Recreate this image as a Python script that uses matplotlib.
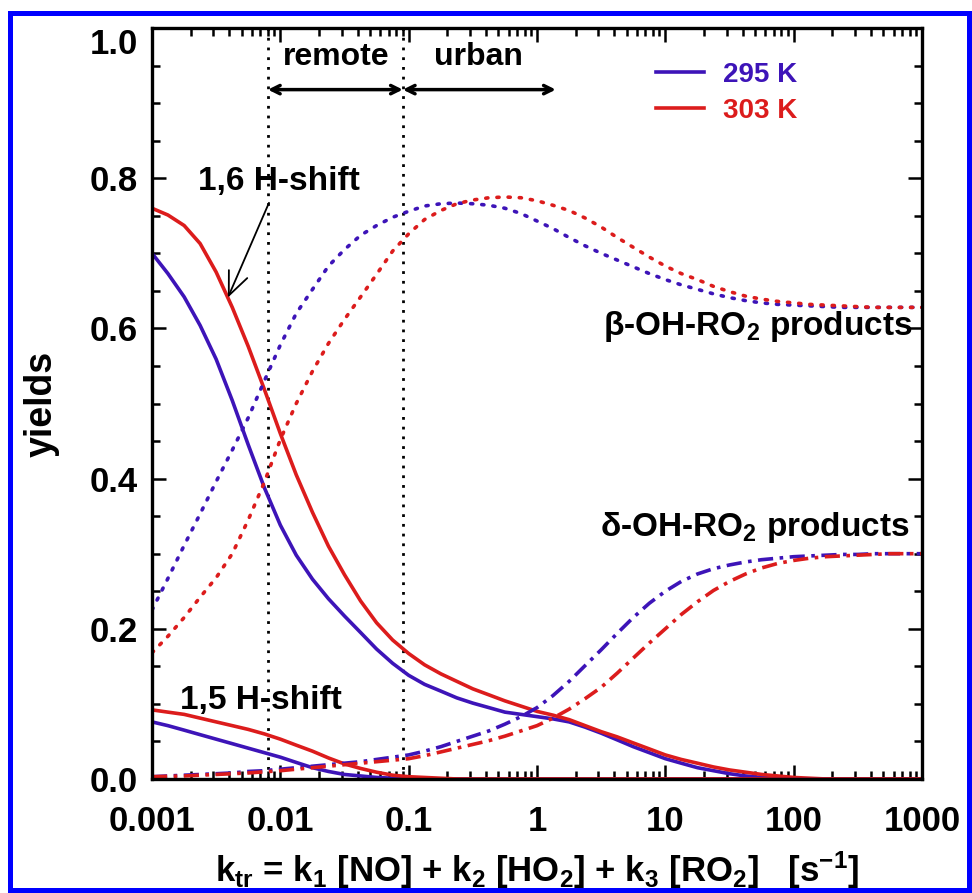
import matplotlib
matplotlib.use("Agg")
import matplotlib.pyplot as plt
from matplotlib.patches import Rectangle

plt.rcParams['font.family'] = ['Liberation Sans', 'DejaVu Sans']
plt.rcParams['font.weight'] = 'bold'
plt.rcParams['mathtext.fontset'] = 'custom'
plt.rcParams['mathtext.rm'] = 'Liberation Sans:bold'
plt.rcParams['mathtext.it'] = 'Liberation Sans:bold'
plt.rcParams['mathtext.bf'] = 'Liberation Sans:bold'

BLUE = '#3d14b8'
RED = '#dc1c1c'

# k_tr grid (s^-1), eighth-decade steps
k_tr = [0.001, 0.00133, 0.00178, 0.00237, 0.00316, 0.00422, 0.00562, 0.0075,
        0.01, 0.0133, 0.0178, 0.0237, 0.0316, 0.0422, 0.0562, 0.075,
        0.1, 0.133, 0.178, 0.237, 0.316, 0.422, 0.562, 0.75,
        1, 1.33, 1.78, 2.37, 3.16, 4.22, 5.62, 7.5,
        10, 13.3, 17.8, 23.7, 31.6, 42.2, 56.2, 75,
        100, 133, 178, 237, 316, 422, 562, 750,
        1000]

# 1,6 H-shift yields
h16_295 = [0.70, 0.673, 0.642, 0.604, 0.559, 0.504, 0.445, 0.388, 0.338, 0.298, 0.266, 0.24,
           0.217, 0.195, 0.173, 0.154, 0.138, 0.126, 0.117, 0.108, 0.101, 0.095, 0.089, 0.086,
           0.083, 0.08, 0.076, 0.069, 0.061, 0.052, 0.043, 0.035, 0.027, 0.021, 0.015, 0.011,
           0.007, 0.004, 0.002, 0.001, 0, 0, 0, 0, 0, 0, 0, 0, 0]
h16_303 = [0.76, 0.751, 0.737, 0.713, 0.675, 0.628, 0.576, 0.519, 0.46, 0.405, 0.355, 0.31,
           0.272, 0.237, 0.208, 0.185, 0.167, 0.152, 0.14, 0.13, 0.12, 0.112, 0.104, 0.097,
           0.09, 0.085, 0.079, 0.071, 0.063, 0.056, 0.048, 0.04, 0.032, 0.026, 0.021, 0.016,
           0.012, 0.009, 0.006, 0.004, 0.002, 0.001, 0, 0, 0, 0, 0, 0, 0]

# 1,5 H-shift yields
h15_295 = [0.076, 0.071, 0.065, 0.059, 0.053, 0.047, 0.041, 0.035, 0.029, 0.022, 0.015, 0.01,
           0.006, 0.004, 0.002, 0.001, 0, 0, 0, 0, 0, 0, 0, 0,
           0, 0, 0, 0, 0, 0, 0, 0, 0, 0, 0, 0,
           0, 0, 0, 0, 0, 0, 0, 0, 0, 0, 0, 0, 0]
h15_303 = [0.092, 0.089, 0.086, 0.081, 0.076, 0.071, 0.066, 0.06, 0.053, 0.045, 0.037, 0.028,
           0.02, 0.014, 0.009, 0.005, 0.003, 0.002, 0.001, 0, 0, 0, 0, 0,
           0, 0, 0, 0, 0, 0, 0, 0, 0, 0, 0, 0,
           0, 0, 0, 0, 0, 0, 0, 0, 0, 0, 0, 0, 0]

# beta-OH-RO2 products
beta_295 = [0.225, 0.267, 0.311, 0.353, 0.396, 0.438, 0.481, 0.53, 0.578, 0.62, 0.652, 0.683,
            0.705, 0.724, 0.737, 0.748, 0.756, 0.763, 0.766, 0.767, 0.766, 0.764, 0.76, 0.753,
            0.743, 0.733, 0.721, 0.71, 0.70, 0.691, 0.682, 0.673, 0.665, 0.658, 0.652, 0.646,
            0.641, 0.637, 0.634, 0.632, 0.631, 0.63, 0.629, 0.628, 0.628, 0.628, 0.628, 0.628, 0.628]
beta_303 = [0.168, 0.19, 0.215, 0.242, 0.268, 0.30, 0.345, 0.395, 0.452, 0.50, 0.543, 0.58,
            0.612, 0.642, 0.672, 0.703, 0.726, 0.745, 0.757, 0.766, 0.771, 0.774, 0.775, 0.774,
            0.77, 0.764, 0.757, 0.747, 0.735, 0.721, 0.708, 0.695, 0.683, 0.673, 0.665, 0.656,
            0.649, 0.643, 0.639, 0.636, 0.634, 0.632, 0.631, 0.63, 0.629, 0.628, 0.628, 0.628, 0.628]

# delta-OH-RO2 products
delta_295 = [0.003, 0.004, 0.005, 0.006, 0.007, 0.008, 0.01, 0.011, 0.013, 0.015, 0.017, 0.019,
             0.021, 0.023, 0.026, 0.029, 0.032, 0.037, 0.043, 0.05, 0.057, 0.064, 0.073, 0.083,
             0.095, 0.111, 0.13, 0.151, 0.172, 0.194, 0.215, 0.234, 0.25, 0.263, 0.273, 0.28,
             0.285, 0.289, 0.292, 0.294, 0.296, 0.297, 0.298, 0.299, 0.299, 0.30, 0.30, 0.30, 0.30]
delta_303 = [0.003, 0.0035, 0.004, 0.005, 0.006, 0.007, 0.008, 0.0095, 0.011, 0.013, 0.015, 0.017,
             0.019, 0.021, 0.023, 0.025, 0.027, 0.031, 0.036, 0.041, 0.046, 0.051, 0.057, 0.064,
             0.071, 0.081, 0.093, 0.107, 0.122, 0.141, 0.161, 0.181, 0.20, 0.219, 0.236, 0.251,
             0.263, 0.273, 0.281, 0.287, 0.291, 0.294, 0.296, 0.297, 0.298, 0.299, 0.30, 0.30, 0.30]

regime_bounds = [0.008, 0.09]
urban_end = 1.4
yticks = [0.0, 0.2, 0.4, 0.6, 0.8, 1.0]
xticks = [0.001, 0.01, 0.1, 1, 10, 100, 1000]
xticklabels = ['0.001', '0.01', '0.1', '1', '10', '100', '1000']

fig = plt.figure(figsize=(9.72, 8.93), dpi=100)
ax = fig.add_axes([0.1564, 0.1277, 0.7922, 0.8409])

lw = 2.6
dotted = (0, (0.6, 2.5))
dash_dot = (0, (4.2, 1.8, 1.0, 1.8))
ax.plot(k_tr, h16_295, color=BLUE, lw=lw, label='295 K')
ax.plot(k_tr, h16_303, color=RED, lw=lw, label='303 K')
ax.plot(k_tr, h15_295, color=BLUE, lw=lw)
ax.plot(k_tr, h15_303, color=RED, lw=lw)
ax.plot(k_tr, beta_295, color=BLUE, lw=lw, ls=dotted, dash_capstyle='round')
ax.plot(k_tr, beta_303, color=RED, lw=lw, ls=dotted, dash_capstyle='round')
ax.plot(k_tr, delta_295, color=BLUE, lw=lw, ls=dash_dot)
ax.plot(k_tr, delta_303, color=RED, lw=lw, ls=dash_dot)

for b in regime_bounds:
    ax.axvline(b, color='black', lw=2, ls=(0, (1, 2.5)), zorder=1)

ax.set_xscale('log')
ax.set_xlim(1e-3, 1e3)
ax.set_ylim(0, 1)
ax.set_xticks(xticks)
ax.set_xticklabels(xticklabels)
ax.set_yticks(yticks)
ax.set_yticklabels(['%.1f' % v for v in yticks])
ax.set_yticks([v / 20 for v in range(21)], minor=True)

ax.tick_params(which='both', direction='in', top=True, right=True, width=1.8, labelsize=25)
ax.tick_params(which='major', length=10)
ax.tick_params(which='minor', length=6)
ax.tick_params(axis='x', pad=19)
ax.tick_params(axis='y', pad=10)
for sp in ax.spines.values():
    sp.set_linewidth(2.4)
ax.get_yticklabels()[-1].set_verticalalignment('top')

ax.set_xlabel(r'k$_{tr}$ = k$_1$ [NO] + k$_2$ [HO$_2$] + k$_3$ [RO$_2$]   [s$^{-1}$]',
              fontsize=25, fontweight='bold', labelpad=8)
ax.set_ylabel('yields', fontsize=27, fontweight='bold', labelpad=22)

# regime arrows
arrow_kw = dict(arrowstyle='<->,head_length=0.6,head_width=0.3', lw=2.5, color='black',
                shrinkA=0, shrinkB=0)
ax.annotate('', xy=(regime_bounds[0], 0.918), xytext=(regime_bounds[1], 0.918), arrowprops=arrow_kw)
ax.annotate('', xy=(regime_bounds[1], 0.918), xytext=(urban_end, 0.918), arrowprops=arrow_kw)
ax.text(0.027, 0.961, 'remote', fontsize=23, fontweight='bold', ha='center', va='center')
ax.text(0.35, 0.961, 'urban', fontsize=23, fontweight='bold', ha='center', va='center')

ax.annotate('1,6 H-shift', xy=(0.0039, 0.641), xytext=(0.0023, 0.795),
            fontsize=24, fontweight='bold', va='center', ha='left',
            arrowprops=dict(arrowstyle='->,head_length=0.7,head_width=0.3', lw=1.3, color='black',
                            shrinkA=2, shrinkB=0, relpos=(0.45, 0)))
ax.text(0.00165, 0.105, '1,5 H-shift', fontsize=24, fontweight='bold', va='center', ha='left')

ax.text(850, 0.603, r'β-OH-RO$_2$ products', fontsize=24, fontweight='bold', ha='right', va='center')
ax.text(800, 0.335, r'δ-OH-RO$_2$ products', fontsize=24, fontweight='bold', ha='right', va='center')

leg = ax.legend(loc='upper left', bbox_to_anchor=(0.655, 0.955), frameon=False,
                prop={'weight': 'bold', 'size': 20}, handlelength=1.7, handletextpad=0.7,
                labelspacing=0.35, borderpad=0, borderaxespad=0)
for txt, col in zip(leg.get_texts(), [BLUE, RED]):
    txt.set_color(col)

# blue border around the figure
fig.patches.append(Rectangle((0.0108, 0.0028), 0.9866, 0.9832, transform=fig.transFigure,
                             fill=False, edgecolor='#0000ff', lw=3.6))

fig.savefig('out.png', dpi=100)
